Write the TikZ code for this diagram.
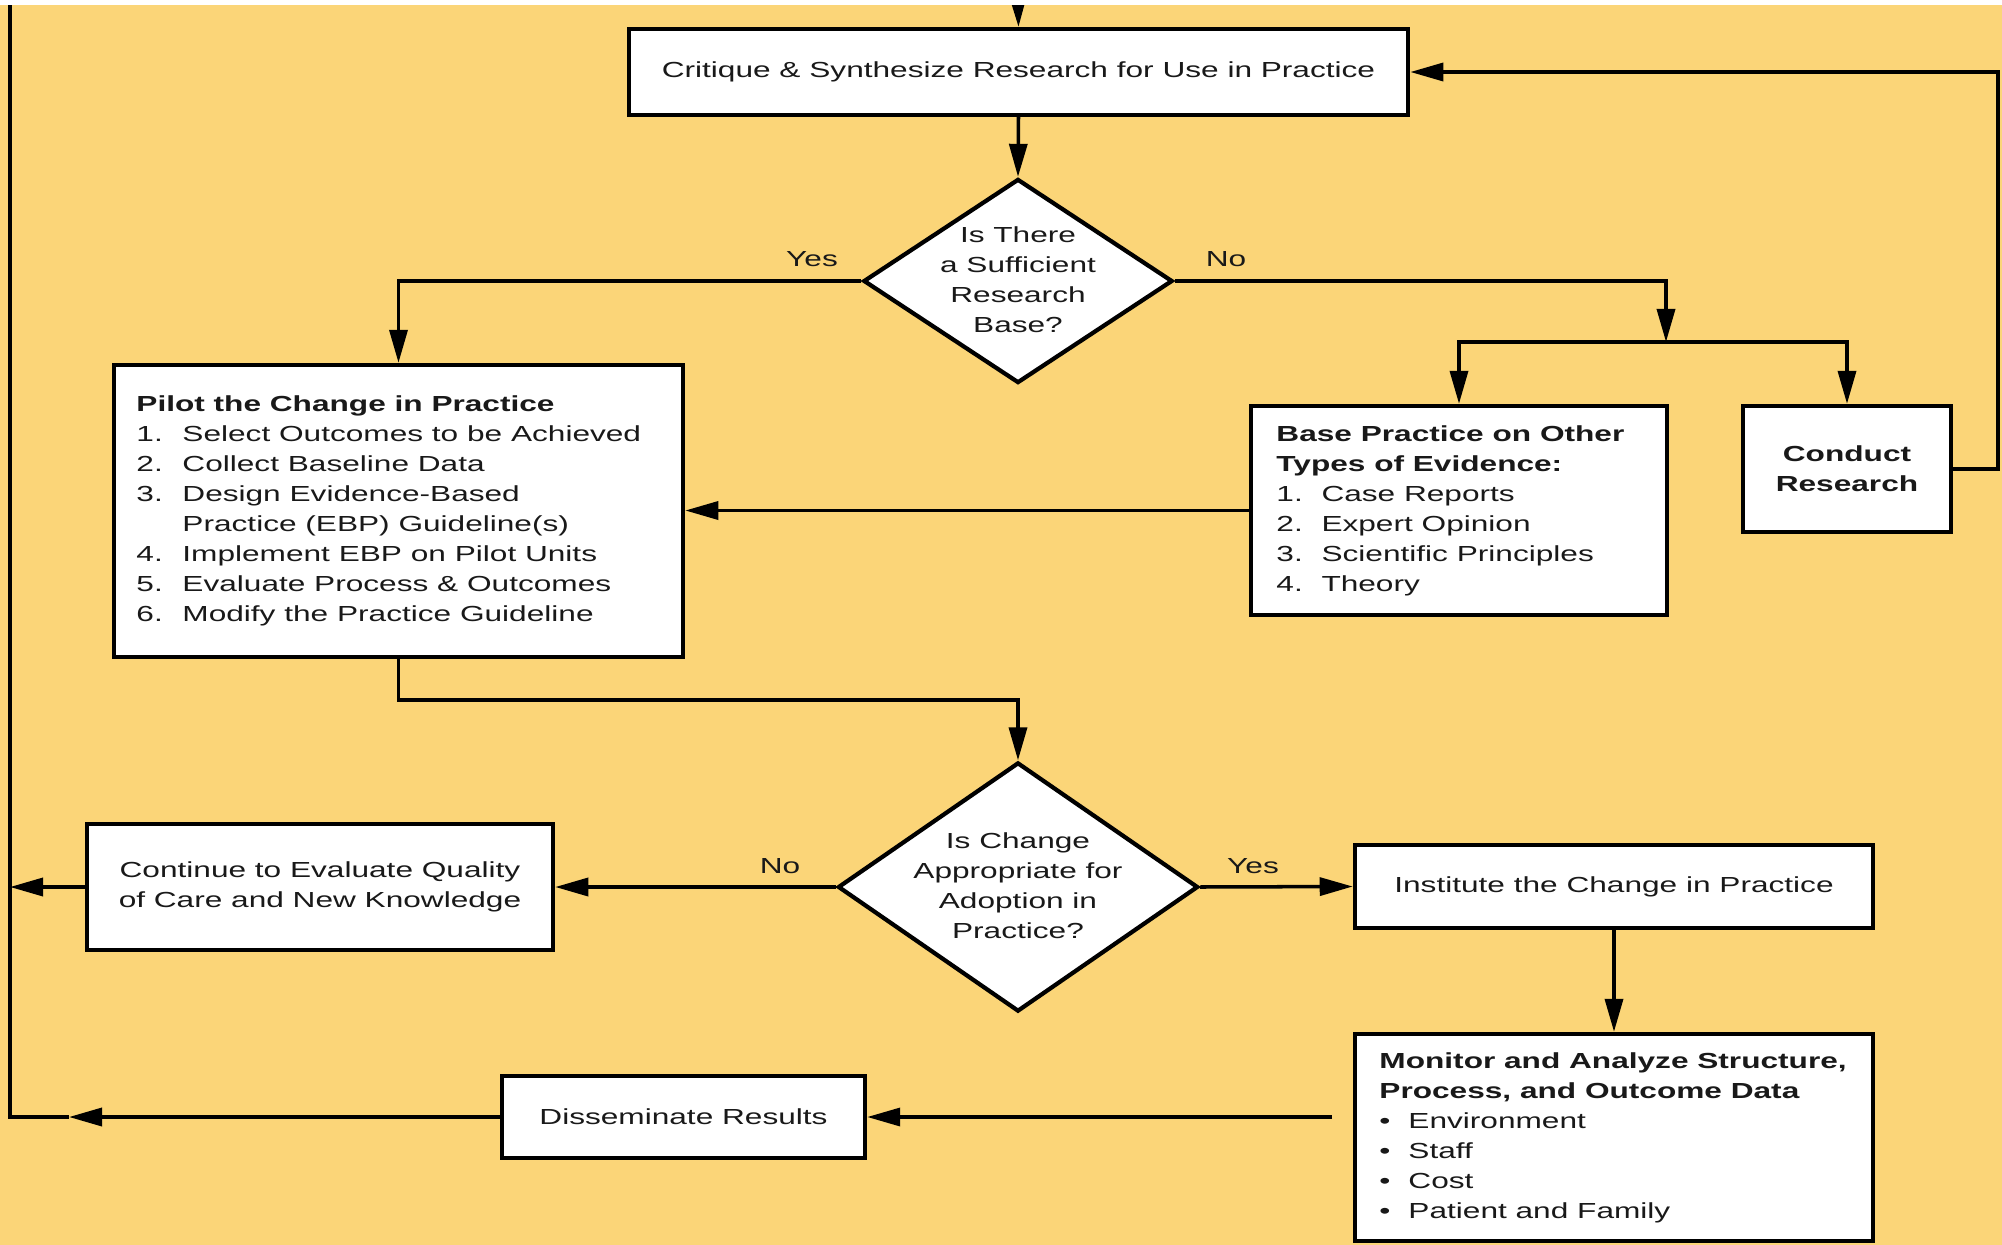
\documentclass[tikz,border=0pt]{standalone}
\usepackage{fontspec}
\setmainfont{Liberation Sans}[FakeStretch=1.45]
\usetikzlibrary{arrows.meta,shapes.geometric}
\definecolor{bgc}{RGB}{251,213,120}
\definecolor{ink}{RGB}{25,25,25}
\newcommand\numlab[1]{\makebox[0.46cm][l]{#1}}
\newcommand\numlabb[1]{\makebox[0.45cm][l]{#1}}
\newcommand\bul{\makebox[0.29cm][l]{\textbullet}}

\begin{document}
\begin{tikzpicture}[x=0.01cm,y=-0.01cm,
  every node/.style={font=\fontsize{6.2}{8.54}\selectfont, text=ink},
  box/.style={draw=black, fill=white, line width=1.2pt, inner sep=0pt, align=center},
  dia/.style={draw=black, fill=white, line width=1.2pt, shape=diamond, inner sep=0pt},
  txt/.style={inner sep=0pt, align=left},
  conn/.style={line width=1pt, draw=black},
  arr/.style={conn, -{Triangle[length=0.33cm,width=0.18cm]}},
  lbl/.style={inner sep=0pt}
]
\useasboundingbox (0,0) rectangle (2002,1245);
\fill[bgc] (0,0) rectangle (2002,1245);

% boxes and decisions
\node[box, minimum width=7.79cm, minimum height=0.86cm] (crit) at (1018.5,72)
  {Critique \& Synthesize Research for Use in Practice};
\node[dia, minimum width=3.09cm, minimum height=2.04cm] (d1) at (1018,281) {};
\node[txt, align=center] (d1t) at (1018,280) {Is There\\a Sufficient\\Research\\Base?};

\node[box, minimum width=5.69cm, minimum height=2.92cm] (pilot) at (398.5,511) {};
\node[txt, anchor=west] (pilott) at ([xshift=0.24cm]pilot.west)
  {\textbf{Pilot the Change in Practice}\\
   \numlab{1.}Select Outcomes to be Achieved\\
   \numlab{2.}Collect Baseline Data\\
   \numlab{3.}Design Evidence-Based\\
   \numlab{}Practice (EBP) Guideline(s)\\
   \numlab{4.}Implement EBP on Pilot Units\\
   \numlab{5.}Evaluate Process \& Outcomes\\
   \numlab{6.}Modify the Practice Guideline};

\node[box, minimum width=4.16cm, minimum height=2.09cm] (base) at (1459,510.5) {};
\node[txt, anchor=west] (baset) at ([xshift=0.27cm]base.west)
  {\textbf{Base Practice on Other}\\
   \textbf{Types of Evidence:}\\
   \numlabb{1.}Case Reports\\
   \numlabb{2.}Expert Opinion\\
   \numlabb{3.}Scientific Principles\\
   \numlabb{4.}Theory};

\node[box, minimum width=2.08cm, minimum height=1.26cm] (cond) at (1847,469)
  {\textbf{Conduct}\\\textbf{Research}};

\node[dia, minimum width=3.60cm, minimum height=2.49cm] (d2) at (1018,887) {};
\node[txt, align=center] (d2t) at (1018,886) {Is Change\\Appropriate for\\Adoption in\\Practice?};

\node[box, minimum width=4.66cm, minimum height=1.26cm] (cont) at (320,887)
  {Continue to Evaluate Quality\\of Care and New Knowledge};
\node[box, minimum width=5.18cm, minimum height=0.83cm] (inst) at (1614,886.5)
  {Institute the Change in Practice};

\node[box, minimum width=5.18cm, minimum height=2.07cm] (mon) at (1614,1137.5) {};
\node[txt, anchor=west] (mont) at ([xshift=0.26cm]mon.west)
  {\textbf{Monitor and Analyze Structure,}\\
   \textbf{Process, and Outcome Data}\\
   \bul Environment\\
   \bul Staff\\
   \bul Cost\\
   \bul Patient and Family};

\node[box, minimum width=3.63cm, minimum height=0.82cm] (dis) at (683.5,1117)
  {Disseminate Results};

% branch labels
\node[lbl] (yes1) at (812,259) {Yes};
\node[lbl] (no1) at (1226,259) {No};
\node[lbl] (no2) at (780,866) {No};
\node[lbl] (yes2) at (1253,866) {Yes};

% routing points
\coordinate (ltop) at (10,0);
\coordinate (lbot) at (10,1117);
\coordinate (topin) at (1018,0);
\coordinate (rcol) at (1998,0);
\coordinate (split) at (1666,342);
\coordinate (dismid) at (69,1117);
\coordinate (monout) at (1332,1117);

% connectors
\draw[arr] (topin) -- (crit.north);
\draw[arr] (crit.south) -- (d1.north);
\draw[arr] (d1.west) -| (pilot.north);
\draw[arr] (d1.east) -| (split);
\draw[arr] (split) -| (base.north);
\draw[arr] (split) -| (cond.north);
\draw[arr] (cond.east) -- (cond.east -| rcol) |- (crit.east);
\draw[arr] (base.west) -- (base.west -| pilot.east);
\draw[arr] (pilot.south) -- ++(0,41) -| (d2.north);
\draw[arr] (d2.west) -- (cont.east);
\draw[arr] (cont.west) -- (cont.west -| ltop);
\draw[arr] (d2.east) -- (inst.west);
\draw[arr] (inst.south) -- (mon.north);
\draw[arr] (monout) -- (dis.east);
\draw[arr] (dis.west) -- (dismid);
\draw[conn] (dismid) -- (lbot) -- (ltop);

% light strip along the top edge
\fill[white] (0,0) rectangle (2002,5);
\end{tikzpicture}
\end{document}
